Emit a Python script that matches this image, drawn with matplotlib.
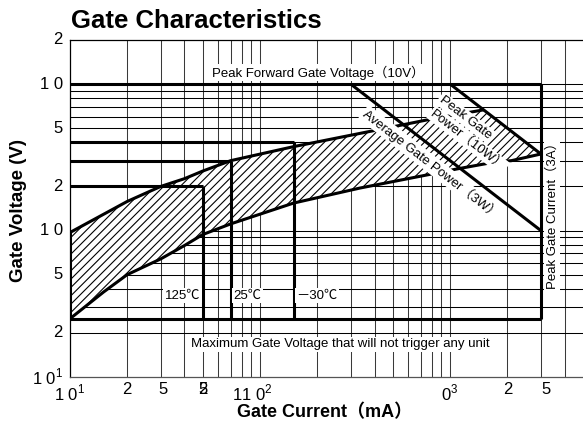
import numpy as np
import matplotlib
matplotlib.use("Agg")
import matplotlib.pyplot as plt
from matplotlib.transforms import blended_transform_factory

plt.rcParams['font.family'] = ['Liberation Sans', 'Noto Sans CJK JP', 'DejaVu Sans']
plt.rcParams['hatch.linewidth'] = 0.8

# ---------------- data ----------------
x_lim = (10, 5000)          # mA
y_lim = (0.1, 20)           # V

# gate characteristic boundary curves (mA, V)
upper_I = [10, 20, 30, 40, 50, 70, 150, 390, 785, 1500]
upper_V = [0.97, 1.58, 2.0, 2.26, 2.55, 3.0, 3.74, 4.79, 5.75, 6.67]
lower_I = [10, 15, 20, 30, 40, 50, 70, 150, 335, 810, 1080, 1680, 2100, 3000]
lower_V = [0.25, 0.38, 0.5, 0.64, 0.79, 0.94, 1.11, 1.54, 1.95, 2.44, 2.63, 2.92, 3.0, 3.33]

peak_fwd_voltage = 10.0     # V
max_nontrigger_voltage = 0.25
peak_gate_current = 3000    # mA
peak_power = 10.0           # W
avg_power = 3.0             # W

# trigger requirement boxes: (label, current mA, voltage V)
temp_labels = ["125℃", "25℃", "－30℃"]
temp_current = [50, 70, 150]
temp_voltage = [2.0, 3.0, 4.0]

# tick labels (as printed)
ytick_pos = [0.1, 0.2, 0.5, 1, 2, 5, 10, 20]
ytick_lab = [r"1 0$^{\mathregular{1}}$", "2", "5", "1 0", "2", "5", "1 0", "2"]
xtick_pos = [10, 20, 31, 50, 50, 91, 1000, 2000, 3200]
xtick_lab = [r"1 0$^{\mathregular{1}}$", "2", "5", "2", "5", r"11 0$^{\mathregular{2}}$",
             r"0$^{\mathregular{3}}$", "2", "5"]

# grid
v_grid = [m * 10 ** e for e in range(1, 4) for m in range(1, 10)]
h_grid = [m * 10 ** e for e in range(-1, 1) for m in range(2, 10)] + [1, 10]

# ---------------- figure ----------------
fig = plt.figure(figsize=(5.83, 4.28), dpi=100)
ax = fig.add_axes([70 / 583, 51 / 428, 513 / 583, 337 / 428])
ax.set_xscale('log')
ax.set_yscale('log')
ax.set_xlim(*x_lim)
ax.set_ylim(*y_lim)

for v in v_grid:
    if x_lim[0] < v < x_lim[1]:
        ax.axvline(v, color='#3a3a3a', lw=0.75, zorder=1)
for h in h_grid:
    if y_lim[0] < h < y_lim[1]:
        ax.axhline(h, color='black', lw=0.75, zorder=1)

# hatched region
pI = np.logspace(np.log10(1500), np.log10(3000), 20)
poly_I = list(upper_I) + list(pI) + list(lower_I[::-1])
poly_V = list(upper_V) + list(peak_power * 1000 / pI) + list(lower_V[::-1])
ax.fill(poly_I, poly_V, facecolor='white', edgecolor='black', hatch='////', lw=0, zorder=2)

thick = dict(color='black', lw=2.2, zorder=4, solid_capstyle='butt', solid_joinstyle='round')
ax.plot(upper_I, upper_V, **thick)
ax.plot(lower_I, lower_V, **thick)
ax.plot([10, 10], [lower_V[0], upper_V[0]], **thick)

# limits
ax.plot([x_lim[0], peak_gate_current], [peak_fwd_voltage] * 2, **thick)
ax.plot([x_lim[0], peak_gate_current], [max_nontrigger_voltage] * 2, **thick)
ax.plot([peak_gate_current] * 2, [max_nontrigger_voltage, peak_fwd_voltage], **thick)
pI = np.logspace(np.log10(peak_power * 1000 / peak_fwd_voltage), np.log10(peak_gate_current), 30)
ax.plot(pI, peak_power * 1000 / pI, **thick)
aI = np.logspace(np.log10(avg_power * 1000 / peak_fwd_voltage), np.log10(peak_gate_current), 30)
ax.plot(aI, avg_power * 1000 / aI, **thick)

for lab, c, v in zip(temp_labels, temp_current, temp_voltage):
    ax.plot([x_lim[0], c], [v, v], **thick)
    ax.plot([c, c], [max_nontrigger_voltage, v], **thick)

wb = dict(facecolor='white', edgecolor='none', pad=1.0)
tfs = 9.5
ax.text(202, 12.0, "Peak Forward Gate Voltage（10V）", ha='center', va='center',
        fontsize=tfs, bbox=wb, zorder=5)
ax.text(263, 0.167, "Maximum Gate Voltage that will not trigger any unit", ha='center',
        va='center', fontsize=tfs, bbox=wb, zorder=5)
ax.text(48.5, 0.36, temp_labels[0], ha='right', va='center', fontsize=tfs, bbox=wb, zorder=5)
ax.text(72.5, 0.36, temp_labels[1], ha='left', va='center', fontsize=tfs, bbox=wb, zorder=5)
ax.text(155, 0.36, temp_labels[2], ha='left', va='center', fontsize=tfs, bbox=wb, zorder=5)
ax.text(3440, 1.32, "Peak Gate Current（3A）", ha='center', va='center', rotation=90,
        fontsize=tfs, bbox=wb, zorder=5)
ax.text(794, 2.84, "Average Gate Power（3W）", ha='center', va='center', rotation=-37.8,
        rotation_mode='anchor', fontsize=tfs, bbox=wb, zorder=5)
ax.text(1199, 5.91, "Peak Gate", ha='center', va='center', rotation=-37.8,
        rotation_mode='anchor', fontsize=tfs, bbox=wb, zorder=5)
ax.text(1245, 4.13, "Power（10W）", ha='center', va='center', rotation=-37.8,
        rotation_mode='anchor', fontsize=tfs, bbox=wb, zorder=5)

# spines & ticks
ax.spines['right'].set_visible(False)
ax.spines['top'].set_linewidth(0.9)
ax.spines['left'].set_linewidth(0.9)
ax.spines['bottom'].set_linewidth(0.9)
ax.spines['bottom'].set_color('#555555')
ax.set_xticks([])
ax.set_yticks([])
ax.minorticks_off()

tfs2 = 12
ytr = blended_transform_factory(ax.transAxes, ax.transData)
for p, l in zip(ytick_pos, ytick_lab):
    ax.text(-0.014, p, l, transform=ytr, ha='right', va='center', fontsize=tfs2, clip_on=False)
xtr = blended_transform_factory(ax.transData, ax.transAxes)
for p, l in zip(xtick_pos, xtick_lab):
    ax.text(p, -0.016, l, transform=xtr, ha='center', va='top', fontsize=tfs2, clip_on=False)

fig.text(71 / 583, 1 - 21 / 428, "Gate Characteristics", ha='left', va='center',
         fontsize=18.5, fontweight='bold')
fig.text(19 / 583, 1 - 210 / 428, "Gate Voltage (V)", ha='center', va='center',
         rotation=90, fontsize=13.5, fontweight='bold')
fig.text(325 / 583, 1 - 413 / 428, "Gate Current（mA）", ha='center', va='center',
         fontsize=13, fontweight='bold')

fig.savefig("out.png", dpi=100)
